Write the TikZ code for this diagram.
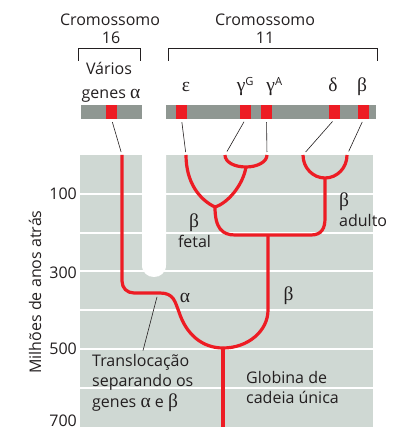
\documentclass[tikz,border=0pt]{standalone}
\usepackage{fontspec}
\setmainfont{Open Sans}
\newfontfamily\grk[Scale=1.22]{Liberation Serif}
\usetikzlibrary{positioning, calc}
\definecolor{gbred}{HTML}{ED1C24}
\definecolor{gbpanel}{HTML}{CFD8D3}
\definecolor{gbbar}{HTML}{8F9792}
\definecolor{gbtext}{HTML}{231F20}
\tikzstyle{branch}=[draw=gbred, line width=3.2pt]
\tikzstyle{gene}=[rectangle, fill=gbred, minimum width=11pt, minimum height=14pt, inner sep=0pt]
\tikzstyle{chrom}=[rectangle, fill=gbbar, minimum height=14pt, inner sep=0pt]
\tikzstyle{leader}=[draw=gbtext, line width=0.6pt]
\tikzstyle{lbl}=[text=gbtext, inner sep=0pt, anchor=base]
\tikzstyle{gridline}=[draw=white, line width=2pt]

\begin{document}
\begin{tikzpicture}[x=1pt, y=-1pt, font=\fontsize{16}{20}\selectfont]
    \useasboundingbox (0,0) rectangle (398,430);
    % time panel
    \fill[gbpanel] (80,155) rectangle (373,427);
    \foreach \y in {193.8,232.6,271.4,310.2,349,387.8}
        \draw[gridline] (80,\y) -- (373,\y);
    \fill[white] (142,150) -- (142,265) .. controls (142,281) and (166,281) .. (166,265) -- (166,150) -- cycle;

    % axis
    \node[lbl, anchor=east] (t100) at (77,194) {100};
    \node[lbl, anchor=east] (t300) at (77,273) {300};
    \node[lbl, anchor=east] (t500) at (77,349) {500};
    \node[lbl, anchor=east] (t700) at (77,421) {700};
    \node[lbl, anchor=center, rotate=90] (axis) at (35,292) {Milhões de anos atrás};

    % chromosomes
    \draw[gbtext, line width=0.8pt] (78,61) -- (78,48) -- (140,48) -- (140,61);
    \draw[gbtext, line width=0.8pt] (168,61) -- (168,48) -- (377,48) -- (377,61);
    \node[lbl] (c16) at (110,26) {Cromossomo};
    \node[lbl] (n16) at (111,44) {16};
    \node[lbl] (c11) at (265,26) {Cromossomo};
    \node[lbl] (n11) at (265,44) {11};
    \node[chrom, minimum width=61pt] (chr16) at (111.5,112) {};
    \node[chrom, minimum width=210pt] (chr11) at (271,112) {};
    \node[gene] (ga) at (111.5,112) {};
    \node[gene] (ge) at (181.5,112) {};
    \node[gene] (gg) at (245.5,112) {};
    \node[gene] (gA) at (266.5,112) {};
    \node[gene] (gd) at (334.5,112) {};
    \node[gene] (gb) at (363.5,112) {};

    \node[lbl] (lvar) at (109,75) {Vários};
    \node[lbl] (lgen) at (111,99) {genes {\grk α}};
    \node[lbl] (le) at (186,92) {\grk ε};
    \node[lbl] (lg) at (245.5,92) {{\grk γ}\textsuperscript{G}};
    \node[lbl] (lA) at (274.5,92) {{\grk γ}\textsuperscript{A}};
    \node[lbl] (ld) at (333,92) {\grk δ};
    \node[lbl] (lb) at (362,92) {\grk β};

    % tree
    \coordinate (tA) at (122,155);
    \coordinate (tE) at (186,155);
    \coordinate (tG) at (225,155);
    \coordinate (tGA) at (267,155);
    \coordinate (tD) at (303,155);
    \coordinate (tB) at (347,155);
    \coordinate (jG) at (246,167);
    \coordinate (jF) at (215,207);
    \coordinate (jAd) at (325,178);
    \coordinate (jB) at (268,235);
    \coordinate (trans) at (158,293);
    \coordinate (root) at (223,348);
    \coordinate (base) at (223,427);

    \draw[branch] (tG) .. controls (225,162) and (234,167) .. (jG) .. controls (257,167) and (267,162) .. (tGA);
    \draw[branch] (tD) .. controls (303,168) and (313,178) .. (jAd) .. controls (337,178) and (347,168) .. (tB);
    \draw[branch] (tE) .. controls (186,183) and (200,200) .. (jF);
    \draw[branch] (jG) .. controls (243,185) and (228,203) .. (jF);
    \draw[branch] (jF) .. controls (215,228) and (222,235) .. (235,235) -- (311,235)
        .. controls (322,235) and (325,228) .. (325,218) -- (jAd);
    \draw[branch] (jB) -- (268,310) .. controls (268,331) and (248,348) .. (root);
    \draw[branch] (tA) -- (122,281) .. controls (122,288) and (127,293) .. (134,293) -- (trans) -- (160,293)
        .. controls (174,293) and (175,302) .. (179,312) .. controls (186,334) and (202,348) .. (root);
    \draw[branch] (root) -- (base);

    % gene leaders
    \draw[leader, shorten <=3pt, shorten >=3pt] (ga.south) -- (tA);
    \draw[leader, shorten <=3pt, shorten >=3pt] (ge.south) -- (tE);
    \draw[leader, shorten <=3pt, shorten >=4pt] (gg.south) -- (tG);
    \draw[leader, shorten <=3pt, shorten >=3pt] (gA.south) -- (tGA);
    \draw[leader, shorten <=3pt, shorten >=4pt] (gd.south) -- (tD);
    \draw[leader, shorten <=3pt, shorten >=4pt] (gb.south) -- (tB);

    % labels
    \node[lbl] (bf) at (194,227) {\grk β};
    \node[lbl] (fetal) at (194.5,247) {fetal};
    \node[lbl, anchor=base west] (ba) at (339,206) {\grk β};
    \node[lbl, anchor=base west] (adulto) at (339,226) {adulto};
    \node[lbl] (la) at (185,302) {\grk α};
    \node[lbl] (lbb) at (288.5,300) {\grk β};
    \node[lbl, anchor=base west] (glob1) at (246,383) {Globina de};
    \node[lbl, anchor=base west] (glob2) at (246,403) {cadeia única};
    \node[lbl, anchor=base west] (transl) at (92,366) {Translocação};
    \node[lbl, anchor=base west] (sep) at (92,386) {separando os};
    \node[lbl, anchor=base west] (ab) at (92,407) {genes {\grk α} e {\grk β}};
    \draw[leader, shorten <=4pt] (trans) -- ([xshift=51pt, yshift=3pt]transl.north west);
\end{tikzpicture}
\end{document}
